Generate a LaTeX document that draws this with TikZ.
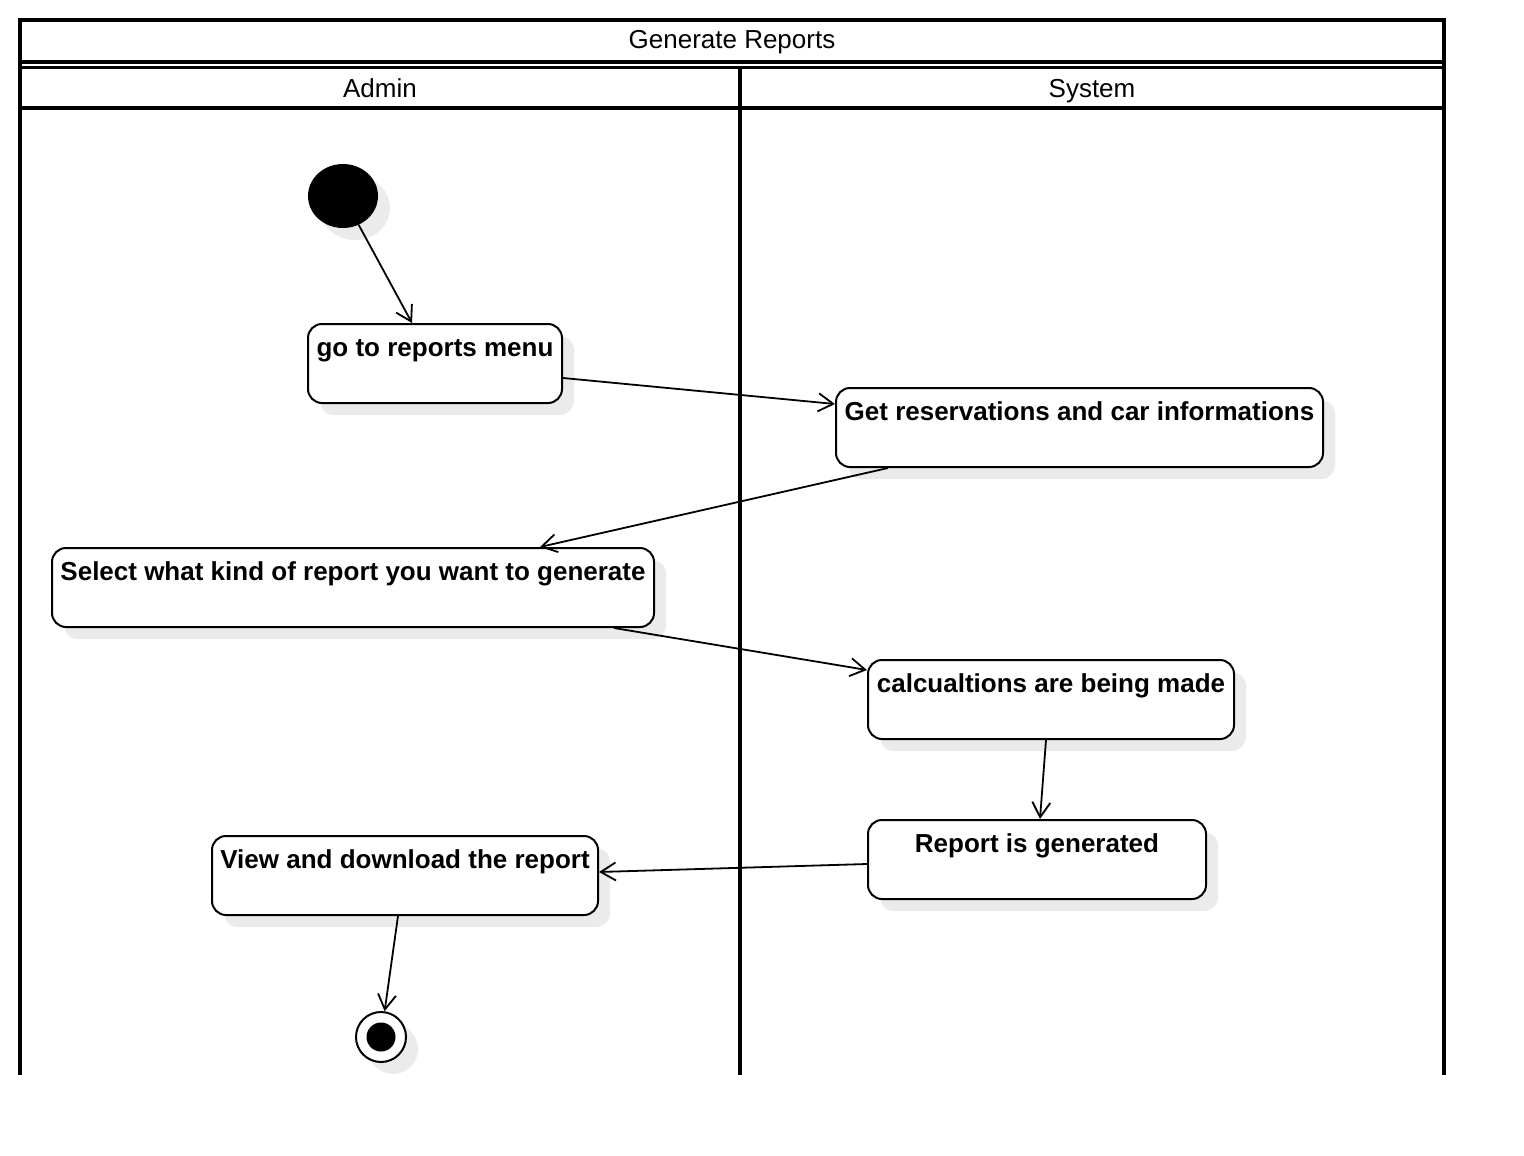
\documentclass[tikz,border=0pt]{standalone}
\usepackage{fontspec}
\setmainfont{Liberation Sans}
\usetikzlibrary{arrows.meta,shadows,calc,shapes.geometric}
\tikzset{
  act/.style={draw, line width=2pt, rounded corners=14pt, fill=white, inner sep=0pt,
    drop shadow={shadow xshift=12pt, shadow yshift=-12pt, fill=black!8, opacity=1}},
  lbl/.style={font=\fontsize{26}{30}\selectfont\bfseries, anchor=base, inner sep=0pt},
  hdr/.style={font=\fontsize{26}{30}\selectfont, anchor=base, inner sep=0pt},
  arr/.style={line width=1.8pt, -{Straight Barb[length=15pt,width=18pt,line width=1.8pt]}},
  lane/.style={line width=3.5pt}
}
\begin{document}
\begin{tikzpicture}[x=1pt,y=-1pt]
\useasboundingbox[fill=white] (0,0) rectangle (1524,1156);

% swimlane frame
\draw[lane] (20,1075) -- (20,20) -- (1444,20) -- (1444,1075);
\draw[lane] (20,62) -- (1444,62);
\draw[lane] (20,67.5) -- (1444,67.5);
\draw[lane] (20,108) -- (1444,108);
\draw[lane] (740,67.5) -- (740,1075);
\node[hdr] (title) at (732,49) {Generate Reports};
\node[hdr] (admin) at (380,97) {Admin};
\node[hdr] (system) at (1092,97) {System};

% start node
\node[ellipse, draw=none, fill=black, minimum width=70pt, minimum height=64pt, inner sep=0pt,
  drop shadow={shadow xshift=12pt, shadow yshift=-12pt, fill=black!8, opacity=1}] (start) at (343,196) {};

% activities
\node[act, minimum width=254pt, minimum height=79pt] (b1) at (435,363.5) {};
\node[lbl] (t1) at ([yshift=-33.5pt]b1.north) {go to reports menu};

\node[act, minimum width=487pt, minimum height=79pt] (b2) at (1079.5,427.5) {};
\node[lbl] (t2) at ([yshift=-33.5pt]b2.north) {Get reservations and car informations};

\node[act, minimum width=602pt, minimum height=79pt] (b3) at (353,587.5) {};
\node[lbl] (t3) at ([yshift=-33.5pt]b3.north) {Select what kind of report you want to generate};

\node[act, minimum width=366pt, minimum height=79pt] (b4) at (1051,699.5) {};
\node[lbl] (t4) at ([yshift=-33.5pt]b4.north) {calcualtions are being made};

\node[act, minimum width=338pt, minimum height=79pt] (b5) at (1037,859.5) {};
\node[lbl] (t5) at ([yshift=-33.5pt]b5.north) {Report is generated};

\node[act, minimum width=386pt, minimum height=79pt] (b6) at (405,875.5) {};
\node[lbl] (t6) at ([yshift=-33.5pt]b6.north) {View and download the report};

% end node
\node[circle, draw, line width=2pt, fill=white, minimum size=50pt, inner sep=0pt,
  drop shadow={shadow xshift=12pt, shadow yshift=-12pt, fill=black!8, opacity=1}] (end) at (381,1037) {};
\node[circle, fill=black, minimum size=29pt, inner sep=0pt] (endin) at (end.center) {};

% connectors
\draw[arr] (start) -- ([xshift=-23pt]b1.north);
\draw[arr] ([yshift=-14.5pt]b1.east) -- ([yshift=23.5pt]b2.west);
\draw[arr] ([xshift=-191.5pt]b2.south) -- ([xshift=187pt]b3.north);
\draw[arr] ([xshift=261pt]b3.south) -- ([yshift=29.5pt]b4.west);
\draw[arr] ([xshift=-5pt]b4.south) -- ([xshift=3pt]b5.north);
\draw[arr] ([yshift=-4.5pt]b5.west) -- ([yshift=3.5pt]b6.east);
\draw[arr] ([xshift=-7pt]b6.south) -- (end);
\end{tikzpicture}
\end{document}
